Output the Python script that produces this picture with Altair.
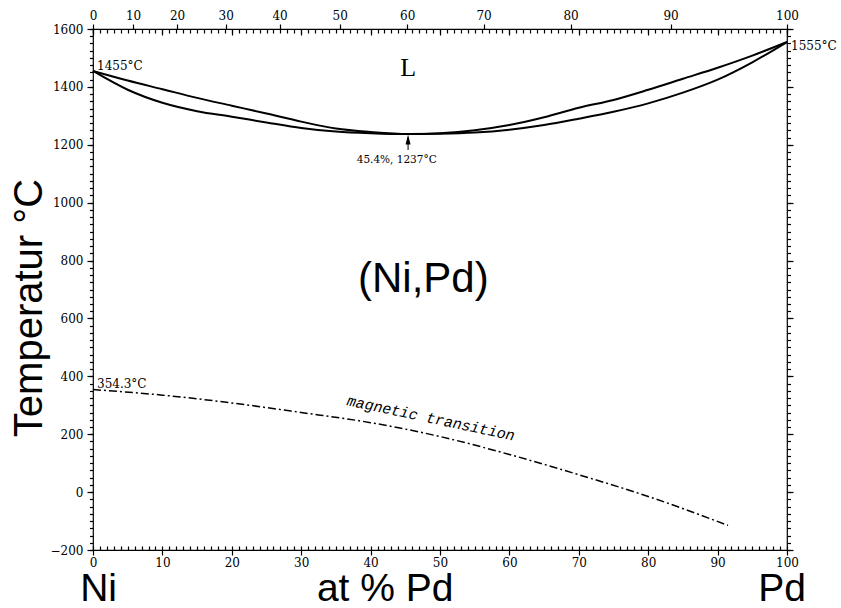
import altair as alt
import pandas as pd

# Ni–Pd phase diagram: composition in at.% Pd, temperature in °C
liq_at = [0, 5, 10, 15, 20, 25, 30, 35, 40, 45.4, 50, 55, 60, 65, 70, 75, 80, 85, 90, 95, 100]
liq_t = [1455, 1422, 1392, 1362, 1335, 1308, 1280, 1256, 1244, 1237, 1240, 1250, 1268,
         1295, 1328, 1355, 1390, 1428, 1466, 1508, 1555]

sol_at = [0, 5, 10, 15, 20, 25, 30, 35, 40, 45.4, 50, 55, 60, 65, 70, 75, 80, 85, 90, 95, 100]
sol_t = [1455, 1390, 1345, 1316, 1297, 1277, 1258, 1246, 1240, 1237, 1238, 1242, 1252,
         1268, 1290, 1314, 1343, 1380, 1425, 1485, 1555]

mag_at = [0, 10, 20, 30, 40, 50, 60, 70, 80, 91.5]
mag_t = [354.3, 335, 308, 275, 240, 192, 130, 60, -15, -115]

# point labels
pt_at = [0, 100, 0]
pt_t = [1458, 1527, 359]
pt_text = ["1455°C", "1555°C", "354.3°C"]

# congruent minimum
min_at = 45.4
min_t = 1237

# atomic masses for the weight-% scale along the top
M_NI, M_PD = 58.693, 106.42
wt_values = list(range(0, 101, 10))


def wt_to_at(w):
    return 100 * (w / M_PD) / (w / M_PD + (100 - w) / M_NI)


wt_pos = [wt_to_at(w) for w in wt_values]
wt_label = (f"format(100*datum.value*{M_PD}/(datum.value*{M_PD}"
            f"+(100-datum.value)*{M_NI}), '.0f')")

SERIF = "DejaVu Serif"
SANS = "Liberation Sans"
W, H = 694, 521

xs = alt.Scale(domain=[0, 100], nice=False, zero=False)
ys = alt.Scale(domain=[-200, 1600], nice=False, zero=False)

common = dict(domain=False, grid=False, title=None, ticks=True, tickColor="#000000",
              tickWidth=1.2, tickOpacity=1, labelColor="black", labelFont=SERIF,
              labelFontSize=12, format="d")

ax_bottom = alt.Axis(orient="bottom", values=list(range(0, 101, 10)), tickSize=5,
                     labelPadding=2, labelFlush=False, labelOverlap=False, **common)
ax_bottom_minor = alt.Axis(orient="bottom", values=list(range(0, 101)), tickSize=4,
                           offset=-4, labels=False, **common)
ax_top_minor = alt.Axis(orient="top", values=list(range(0, 101)), tickSize=4,
                        offset=-4, labels=False, **common)
ax_top_major = alt.Axis(orient="top", values=list(range(0, 101, 10)), tickSize=6,
                        offset=-6, labels=False, **common)
ax_top_wt = alt.Axis(orient="top", values=wt_pos, labelExpr=wt_label, tickSize=5,
                     labelPadding=2, labelFlush=False, labelOverlap=False, **common)

common_y = {k: v for k, v in common.items() if k != "title"}
ax_left = alt.Axis(orient="left", values=list(range(-200, 1601, 200)), tickSize=6,
                   labelPadding=4, labelOverlap=False, labelFlush=False,
                   title="Temperatur °C", titleFont=SANS, titleFontSize=40,
                   titleFontWeight="normal", titleColor="black", titleAngle=270,
                   titleX=-51.5, titleY=278.5, titleAlign="center",
                   titleBaseline="alphabetic", **common_y)
ax_left_minor = alt.Axis(orient="left", values=list(range(-200, 1601, 25)), tickSize=3.5,
                         labels=False, **common)
ax_right = alt.Axis(orient="right", values=list(range(-200, 1601, 200)), tickSize=6,
                    labels=False, **common)
ax_right_minor = alt.Axis(orient="right", values=list(range(-200, 1601, 25)), tickSize=3.5,
                          labels=False, **common)

liq_df = pd.DataFrame({"at": liq_at, "T": liq_t})
sol_df = pd.DataFrame({"at": sol_at, "T": sol_t})
mag_df = pd.DataFrame({"at": mag_at, "T": mag_t})
pt_df = pd.DataFrame({"at": pt_at, "T": pt_t, "label": pt_text})

liquidus = alt.Chart(liq_df).mark_line(color="black", strokeWidth=2, interpolate="monotone").encode(
    x=alt.X("at:Q", scale=xs, axis=ax_bottom),
    y=alt.Y("T:Q", scale=ys, axis=ax_left),
)
solidus = alt.Chart(sol_df).mark_line(color="black", strokeWidth=2, interpolate="monotone").encode(
    x=alt.X("at:Q", scale=xs, axis=ax_bottom_minor),
    y=alt.Y("T:Q", scale=ys, axis=ax_left_minor),
)
magnetic = alt.Chart(mag_df).mark_line(color="black", strokeWidth=1.5, strokeDash=[8, 3, 2, 3],
                                       interpolate="monotone").encode(
    x=alt.X("at:Q", scale=xs, axis=ax_top_minor),
    y=alt.Y("T:Q", scale=ys, axis=ax_right),
)
point_labels = alt.Chart(pt_df).mark_text(font=SERIF, fontSize=12, align="left",
                                          baseline="alphabetic", dx=4, color="black").encode(
    x=alt.X("at:Q", scale=xs, axis=ax_top_major),
    y=alt.Y("T:Q", scale=ys, axis=ax_right_minor),
    text="label:N",
)

# phase-field labels
field_L_df = pd.DataFrame({"at": [45.4], "T": [1438], "label": ["L"]})
field_ss_df = pd.DataFrame({"at": [47.6], "T": [691], "label": ["(Ni,Pd)"]})
field_L = alt.Chart(field_L_df).mark_text(font="Liberation Serif", fontSize=26,
                                          baseline="alphabetic", color="black").encode(
    x=alt.X("at:Q", scale=xs, axis=ax_top_wt),
    y=alt.Y("T:Q", scale=ys, axis=None),
    text="label:N",
)
field_ss = alt.Chart(field_ss_df).mark_text(font=SANS, fontSize=42,
                                            baseline="alphabetic", color="black").encode(
    x=alt.X("at:Q", scale=xs, axis=None),
    y=alt.Y("T:Q", scale=ys, axis=None),
    text="label:N",
)

# arrow at the congruent minimum
arrow_df = pd.DataFrame({"at": [min_at], "T": [min_t - 55], "T2": [min_t - 12]})
arrow_stem = alt.Chart(arrow_df).mark_rule(color="black", strokeWidth=1).encode(
    x=alt.X("at:Q", scale=xs, axis=None),
    y=alt.Y("T:Q", scale=ys, axis=None),
    y2="T2:Q",
)
head_df = pd.DataFrame({"at": [min_at], "T": [min_t - 19]})
arrow_head = alt.Chart(head_df).mark_point(shape="M0,-1L0.5,1L-0.5,1Z", size=100, filled=True,
                                           color="black", opacity=1).encode(
    x=alt.X("at:Q", scale=xs, axis=None),
    y=alt.Y("T:Q", scale=ys, axis=None),
)
min_df = pd.DataFrame({"at": [38.0], "T": [1137], "label": [f"{min_at}%, {min_t}°C"]})
min_label = alt.Chart(min_df).mark_text(font=SERIF, fontSize=10.5, align="left",
                                        baseline="alphabetic", color="black").encode(
    x=alt.X("at:Q", scale=xs, axis=None),
    y=alt.Y("T:Q", scale=ys, axis=None),
    text="label:N",
)

mag_lbl_df = pd.DataFrame({"at": [48.7], "T": [256], "label": ["magnetic transition"]})
mag_label = alt.Chart(mag_lbl_df).mark_text(font="Liberation Mono", fontSize=15,
                                            fontStyle="italic", angle=12,
                                            color="black").encode(
    x=alt.X("at:Q", scale=xs, axis=None),
    y=alt.Y("T:Q", scale=ys, axis=None),
    text="label:N",
)

# composition labels under the axis
elem_df = pd.DataFrame({"at": [0.8, 42.1, 99.3], "label": ["Ni", "at % Pd", "Pd"]})
elem_labels = alt.Chart(elem_df).mark_text(font=SANS, fontSize=39, baseline="alphabetic",
                                           color="black").encode(
    x=alt.X("at:Q", scale=xs, axis=None),
    y=alt.value(H + 51),
    text="label:N",
)

chart = alt.layer(
    liquidus, solidus, magnetic, point_labels, field_L, field_ss,
    arrow_stem, arrow_head, min_label, mag_label, elem_labels,
).resolve_axis(
    x="independent", y="independent"
).properties(
    width=W, height=H,
    autosize=alt.AutoSizeParams(type="none"),
    padding={"left": 93, "top": 29, "right": 841 - 93 - W, "bottom": 608 - 29 - H},
    background="white",
).configure_view(stroke="black", strokeWidth=1.2)

chart.save("out.html", embed_options={"renderer": "svg", "actions": False})
